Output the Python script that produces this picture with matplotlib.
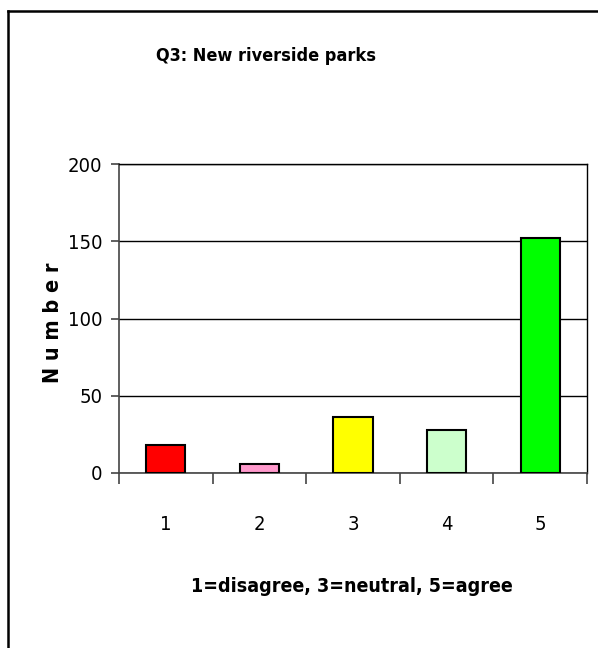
import numpy as np
import matplotlib.pyplot as plt
from matplotlib.lines import Line2D

plt.rcParams["font.family"] = ["DejaVu Sans"]
plt.rcParams["font.stretch"] = "condensed"

categories = ["1", "2", "3", "4", "5"]
counts = [18, 6, 36, 28, 152]
colors = ["#FF0000", "#FF99CC", "#FFFF00", "#CCFFCC", "#00FF00"]
y_ticks = [0, 50, 100, 150, 200]

fig = plt.figure(figsize=(5.98, 6.48), dpi=100)
ax = fig.add_axes([119 / 598, (648 - 473) / 648, (587 - 119) / 598, (473 - 164) / 648])

x = np.arange(len(categories))
ax.bar(x, counts, width=0.42, color=colors, edgecolor="black", linewidth=1.5, zorder=3)

ax.set_xlim(-0.5, len(categories) - 0.5)
ax.set_ylim(0, 200)
ax.set_yticks(y_ticks)
ax.set_yticklabels([str(v) for v in y_ticks], fontsize=14.5)
ax.yaxis.grid(True, color="black", linewidth=1.0, zorder=0)

# labels at category centres, tick marks on the boundaries
ax.set_xticks(x)
ax.set_xticklabels(categories, fontsize=14.5)
ax.set_xticks(np.arange(-0.5, len(categories)), minor=True)
ax.tick_params(axis="x", which="major", length=0, pad=30)
ax.tick_params(axis="x", which="minor", length=8, width=1.2, color="#444444")
ax.tick_params(axis="y", length=6, width=1.2, color="#444444", pad=6)

for side in ["left", "bottom"]:
    ax.spines[side].set_color("#444444")
    ax.spines[side].set_linewidth(1.2)
for side in ["top", "right"]:
    ax.spines[side].set_color("black")
    ax.spines[side].set_linewidth(1.0)

fig.text(266 / 598, 1 - 56 / 648, "Q3: New riverside parks", ha="center", va="center",
         fontsize=13, fontweight="bold")
fig.text(352 / 598, 1 - 587 / 648, "1=disagree, 3=neutral, 5=agree", ha="center", va="center",
         fontsize=14, fontweight="bold")
fig.text(53 / 598, 1 - 323 / 648, "N u m b e r", ha="center", va="center", rotation=90,
         fontsize=15.5, fontweight="bold")

# outer chart frame, cropped on the right and bottom
fx0, fy0 = 8 / 598, 1 - 11 / 648
fig.add_artist(Line2D([fx0, fx0], [0, fy0], color="black", linewidth=1.8, transform=fig.transFigure))
fig.add_artist(Line2D([fx0, 1], [fy0, fy0], color="black", linewidth=1.8, transform=fig.transFigure))

fig.savefig("out.png", dpi=100)
